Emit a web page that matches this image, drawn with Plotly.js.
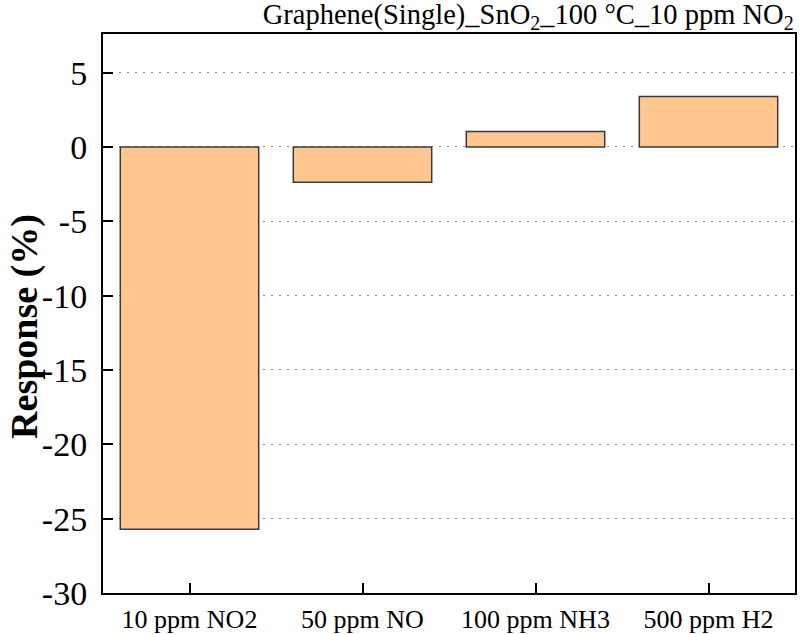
<!DOCTYPE html>
<html>
<head>
<meta charset="utf-8">
<script src="https://cdn.plot.ly/plotly-3.0.1.min.js"></script>
<style>html,body{margin:0;padding:0;background:#fff;}#chart{width:800px;height:634px;}</style>
</head>
<body>
<div id="chart"></div>
<script>
const categories = ["10 ppm NO2", "50 ppm NO", "100 ppm NH3", "500 ppm H2"];
const responses = [-25.72, -2.38, 1.05, 3.4];
const yTickVals = [-30, -25, -20, -15, -10, -5, 0, 5];
const yTickText = ["-30", "-25", "-20", "-15", "-10", "-5", "0", "5"];
const chartTitle = "Graphene(Single)_SnO<sub>2</sub>_100 °C_10 ppm NO<sub>2</sub>";
const yTitle = "Response (%)";

const font = "Liberation Serif, Times New Roman, serif";

Plotly.newPlot("chart", [{
  type: "bar",
  x: categories,
  y: responses,
  width: 0.8,
  marker: {color: "rgb(255,199,143)", line: {color: "#3a3a3a", width: 1.5}},
  hoverinfo: "none"
}], {
  width: 800, height: 634,
  margin: {l: 103, r: 5, t: 34, b: 41},
  paper_bgcolor: "#fff", plot_bgcolor: "#fff",
  showlegend: false,
  font: {family: font, color: "#000"},
  title: {
    text: chartTitle,
    font: {family: font, size: 28.5, color: "#000"},
    x: 0.992, xref: "container", xanchor: "right",
    y: 0.978, yref: "container", yanchor: "middle"
  },
  xaxis: {
    range: [-0.5, 3.5],
    showline: true, linecolor: "#000", linewidth: 2, mirror: true,
    ticks: "inside", ticklen: 10, tickwidth: 2, tickcolor: "#000",
    tickfont: {family: font, size: 26, color: "#000"},
    ticklabelstandoff: 2,
    showgrid: false, zeroline: false
  },
  yaxis: {
    range: [-30, 7.6],
    tickmode: "array",
    tickvals: yTickVals,
    ticktext: yTickText,
    showline: true, linecolor: "#000", linewidth: 2, mirror: true,
    ticks: "inside", ticklen: 10, tickwidth: 2, tickcolor: "#000",
    tickfont: {family: font, size: 34, color: "#000"},
    ticklabelstandoff: 7,
    showgrid: true, gridcolor: "#8a8a8a", gridwidth: 1, griddash: "2px,6px",
    zeroline: false
  },
  annotations: [{
    text: "<b>" + yTitle + "</b>",
    xref: "paper", yref: "paper",
    x: -0.1127, y: 0.476,
    xanchor: "center", yanchor: "middle",
    textangle: -90, showarrow: false,
    font: {family: font, size: 38, color: "#000"}
  }]
}, {displayModeBar: false, staticPlot: true});
</script>
</body>
</html>
